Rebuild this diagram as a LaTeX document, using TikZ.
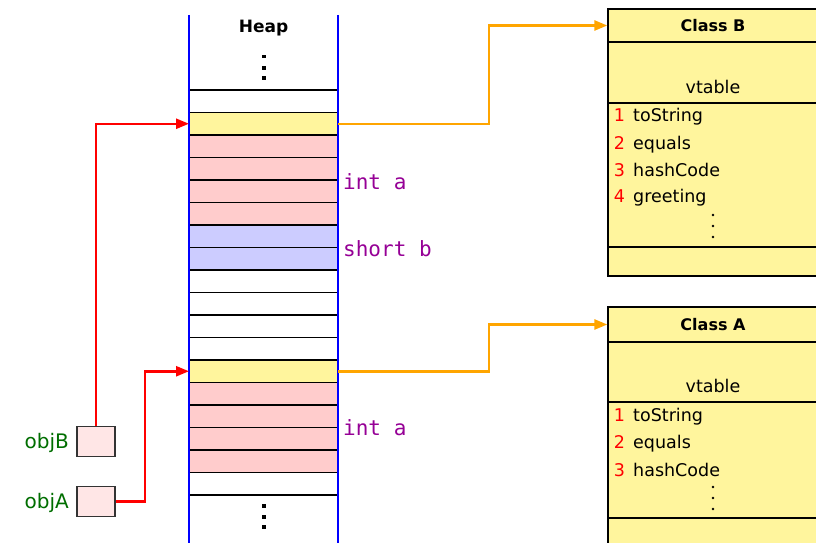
\documentclass[tikz,border=0pt]{standalone}
\usepackage{fontspec}
\setmainfont{DejaVu Sans}
\setmonofont{DejaVu Sans Mono}
\usetikzlibrary{arrows.meta}
\definecolor{cellyellow}{RGB}{255,245,157}
\definecolor{cellpink}{RGB}{255,204,204}
\definecolor{cellblue}{RGB}{204,204,255}
\definecolor{objfill}{RGB}{255,230,230}
\definecolor{labgreen}{RGB}{0,110,0}
\definecolor{typepurple}{RGB}{150,0,150}
\definecolor{arrorange}{RGB}{255,165,0}
\begin{document}
\begin{tikzpicture}[x=1pt,y=-1pt,
  cell/.style={draw=black, line width=1.3pt, minimum width=149pt, minimum height=22.5pt, inner sep=0pt, outer sep=0pt},
  heapside/.style={draw=blue, line width=2.2pt},
  typelab/.style={text=typepurple, inner sep=0pt, anchor=base west, font=\ttfamily\fontsize{21}{25}\selectfont},
  objbox/.style={draw=black!80, line width=1.3pt, fill=objfill, minimum width=38pt, minimum height=30pt, inner sep=0pt},
  objlab/.style={text=labgreen, inner sep=0pt, anchor=base east, font=\fontsize{20}{24}\selectfont},
  redarrow/.style={draw=red, line width=2.5pt, -{Triangle[length=13pt,width=10pt]}},
  orangearrow/.style={draw=arrorange, line width=2.5pt, -{Triangle[length=13pt,width=10pt]}},
  classhead/.style={draw=black, line width=1.3pt, fill=cellyellow, minimum width=210pt, inner sep=0pt, font=\bfseries\fontsize{16}{19}\selectfont},
  classline/.style={draw=black, line width=1.3pt},
  plain/.style={inner sep=0pt, font=\fontsize{17.5}{21}\selectfont},
  methnum/.style={inner sep=0pt, anchor=base, text=red, font=\fontsize{17.5}{21}\selectfont},
  methname/.style={inner sep=0pt, anchor=base west, font=\fontsize{17.5}{21}\selectfont},
  dotbig/.style={fill=black, draw=none},
]
\clip (0,0) rectangle (816,543);
\fill[white] (0,0) rectangle (816,543);

% heap cells
\foreach \k/\c in {0/white,1/cellyellow,2/cellpink,3/cellpink,4/cellpink,5/cellpink,6/cellblue,7/cellblue,8/white,9/white,10/white,11/white,12/cellyellow,13/cellpink,14/cellpink,15/cellpink,16/cellpink,17/white}
  \node[cell, fill=\c] (c\k) at (263.5,{101.25+22.5*\k}) {};
\draw[heapside] (189,15) -- (189,545);
\draw[heapside] (338,15) -- (338,545);
\node[inner sep=0pt, anchor=base, font=\bfseries\fontsize{17}{20}\selectfont] (heap) at (263.5,32.3) {Heap};
\foreach \y in {57,68,78,506,517,527} \fill[dotbig] (262,{\y-2}) rectangle (265.5,{\y+1.5});

% type labels
\node[typelab] (ta1) at (343,189) {int a};
\node[typelab] (sb1) at (343,256) {short b};
\node[typelab] (ta2) at (343,435) {int a};

% objects
\node[objbox] (objB) at (96,441.5) {};
\node[objbox] (objA) at (96,501.5) {};
\node[objlab] (lobjB) at (69,448.3) {objB};
\node[objlab] (lobjA) at (69,508.3) {objA};
\coordinate (bendA) at (145,501.5);
\draw[redarrow] (objB.north) |- (c1.west);
\draw[redarrow] (objA.east) -- (bendA) |- (c12.west);

% Class B
\fill[cellyellow] (608,9) rectangle (818,276);
\draw[classline] (608,9) rectangle (818,276);
\node[classhead, minimum height=33pt] (hB) at (713,25.5) {Class B};
\draw[classline] (608,103) -- (818,103);
\draw[classline] (608,247) -- (818,247);
\node[plain, anchor=base] (vtB) at (713,93.3) {vtable};
\node[methnum] (nB1) at (619.5,121.5) {1};
\node[methname] (mB1) at (633,121.5) {toString};
\node[methnum] (nB2) at (619.5,149) {2};
\node[methname] (mB2) at (633,149) {equals};
\node[methnum] (nB3) at (619.5,176.5) {3};
\node[methname] (mB3) at (633,176.5) {hashCode};
\node[methnum] (nB4) at (619.5,202) {4};
\node[methname] (mB4) at (633,202) {greeting};
\foreach \y in {215,226,237} \fill[dotbig] (713,\y) circle (1.4);

% Class A
\fill[cellyellow] (608,307) rectangle (818,560);
\draw[classline] (608,307) rectangle (818,560);
\node[classhead, minimum height=35pt] (hA) at (713,324.5) {Class A};
\draw[classline] (608,402) -- (818,402);
\draw[classline] (608,518) -- (818,518);
\node[plain, anchor=base] (vtA) at (713,392.7) {vtable};
\node[methnum] (nA1) at (619.5,421.5) {1};
\node[methname] (mA1) at (633,421.5) {toString};
\node[methnum] (nA2) at (619.5,448.5) {2};
\node[methname] (mA2) at (633,448.5) {equals};
\node[methnum] (nA3) at (619.5,476.5) {3};
\node[methname] (mA3) at (633,476.5) {hashCode};
\foreach \y in {487,498,509} \fill[dotbig] (713,\y) circle (1.4);

% vtable pointers
\draw[orangearrow] (c1.east) -- ++(151,0) |- (hB.west);
\draw[orangearrow] (c12.east) -- ++(151,0) |- (hA.west);
\end{tikzpicture}
\end{document}
